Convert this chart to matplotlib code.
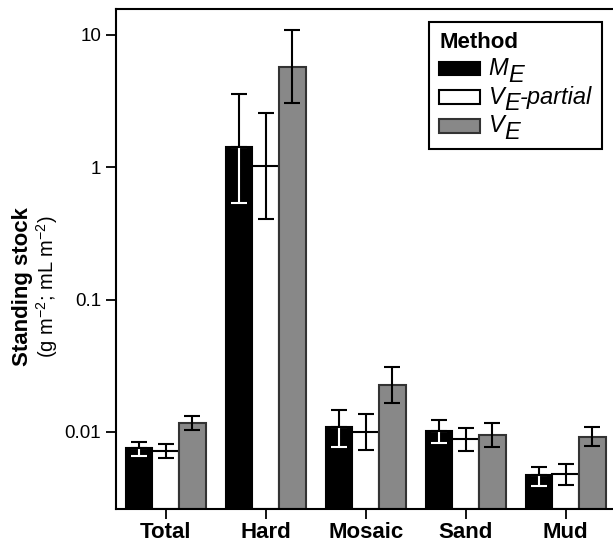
import matplotlib
matplotlib.use('Agg')
import matplotlib.pyplot as plt
import numpy as np

plt.rcParams['font.family'] = ['Liberation Sans', 'DejaVu Sans']
plt.rcParams['mathtext.fontset'] = 'custom'
plt.rcParams['mathtext.rm'] = 'Liberation Sans'
plt.rcParams['mathtext.it'] = 'Liberation Sans:italic'
plt.rcParams['mathtext.bf'] = 'Liberation Sans:bold'

# habitats and methods
habitats = ['Total', 'Hard', 'Mosaic', 'Sand', 'Mud']
# legend labels as (letter, subscript, rest)
methods = [('M', 'E', ''), ('V', 'E', '-partial'), ('V', 'E', '')]
colors = ['black', 'white', '#888888']

# standing stock, with lower / upper error bar ends
me = [0.0076, 1.41, 0.0109, 0.0102, 0.0047]
me_lo = [0.0066, 0.537, 0.0077, 0.0082, 0.0039]
me_hi = [0.00845, 3.57, 0.0147, 0.0124, 0.00546]

vp = [0.0072, 1.02, 0.0100, 0.0088, 0.0048]
vp_lo = [0.0063, 0.404, 0.0073, 0.0072, 0.0040]
vp_hi = [0.0081, 2.56, 0.0136, 0.0107, 0.0057]

ve = [0.0116, 5.69, 0.0226, 0.0095, 0.0092]
ve_lo = [0.0103, 3.04, 0.0165, 0.0077, 0.0078]
ve_hi = [0.0132, 10.8, 0.0307, 0.0116, 0.0109]

values = [me, vp, ve]
lows = [me_lo, vp_lo, ve_lo]
highs = [me_hi, vp_hi, ve_hi]

fig = plt.figure(figsize=(6.13, 5.44), dpi=100)
ax = fig.add_axes([0.1888, 0.0649, 0.8112, 0.9186])

x = np.arange(len(habitats))
w = 0.267
bottom = 0.00263
eb = dict(fmt='none', elinewidth=1.5, capsize=5.5, capthick=1.5)

for i in range(3):
    xs = x + (i - 1) * w
    v = np.array(values[i])
    lo = v - np.array(lows[i])
    hi = np.array(highs[i]) - v
    edge = '#333333' if i == 2 else 'black'
    ax.bar(xs, v - bottom, bottom=bottom, width=w, color=colors[i],
           edgecolor=edge, linewidth=1.5, label=''.join(methods[i]), zorder=2)
    if i == 0:
        # lower part sits inside the black bar, drawn white
        ax.errorbar(xs, v, yerr=[lo, np.zeros_like(lo)], ecolor='white',
                    zorder=3, **eb)
        ax.errorbar(xs, v, yerr=[np.zeros_like(hi), hi], ecolor='black',
                    zorder=4, **eb)
    else:
        ax.errorbar(xs, v, yerr=[lo, hi], ecolor='black', zorder=4, **eb)

ax.set_yscale('log')
ax.set_ylim(bottom, 15.7)
ax.set_xlim(-0.5, 4.473)
ax.set_yticks([0.01, 0.1, 1, 10])
ax.set_yticklabels(['0.01', '0.1', '1', '10'])
ax.yaxis.set_minor_locator(matplotlib.ticker.NullLocator())
ax.set_xticks(x)
ax.set_xticklabels(habitats, fontsize=16, fontweight='bold')

for s in ['left', 'top', 'bottom']:
    ax.spines[s].set_linewidth(1.5)
ax.spines['right'].set_visible(False)
ax.tick_params(axis='both', direction='out', length=7, width=1.3)
ax.tick_params(axis='y', labelsize=13.5, pad=3.5)
ax.tick_params(axis='x', pad=2.5)

fig.text(0.037, 0.4724, 'Standing stock', rotation=90, fontsize=16,
         fontweight='bold', ha='center', va='center')
fig.text(0.076, 0.4724, r'(g m$^{\mathregular{-2}}$; mL m$^{\mathregular{-2}}$)',
         rotation=90, fontsize=14.5, ha='center', va='center')

fs = 17
pad = 0.38
leg = ax.legend(loc='upper right', bbox_to_anchor=(0.9785, 0.9734),
                borderaxespad=0, title='Method', fancybox=False,
                edgecolor='black', framealpha=1, handlelength=1.72,
                handleheight=0.52, prop={'size': fs, 'style': 'italic'},
                title_fontproperties={'size': 16, 'weight': 'bold'},
                labelspacing=0.24, handletextpad=pad, borderpad=0.42)
leg._legend_box.align = 'left'
leg.get_frame().set_linewidth(1.5)

# the subscripts are full size and lowered, so the labels are drawn piece
# by piece next to each handle; the legend's own texts only keep the room
tp = dict(fontsize=fs, style='italic', ha='left', zorder=7,
          textcoords='offset points')
for t, h, (a, b, c) in zip(leg.get_texts(), leg.get_patches(), methods):
    t.set_visible(False)
    p1 = ax.annotate(a, xy=(1, 0.5), xycoords=h, xytext=(pad * fs, 0),
                     va='center', **tp)
    p2 = ax.annotate(b, xy=(1, 0), xycoords=p1, xytext=(0, -4.8),
                     va='bottom', **tp)
    if c:
        ax.annotate(c, xy=(1, 0), xycoords=p2, xytext=(0, 4.8),
                    va='bottom', **tp)

fig.savefig('out.png', dpi=100)
